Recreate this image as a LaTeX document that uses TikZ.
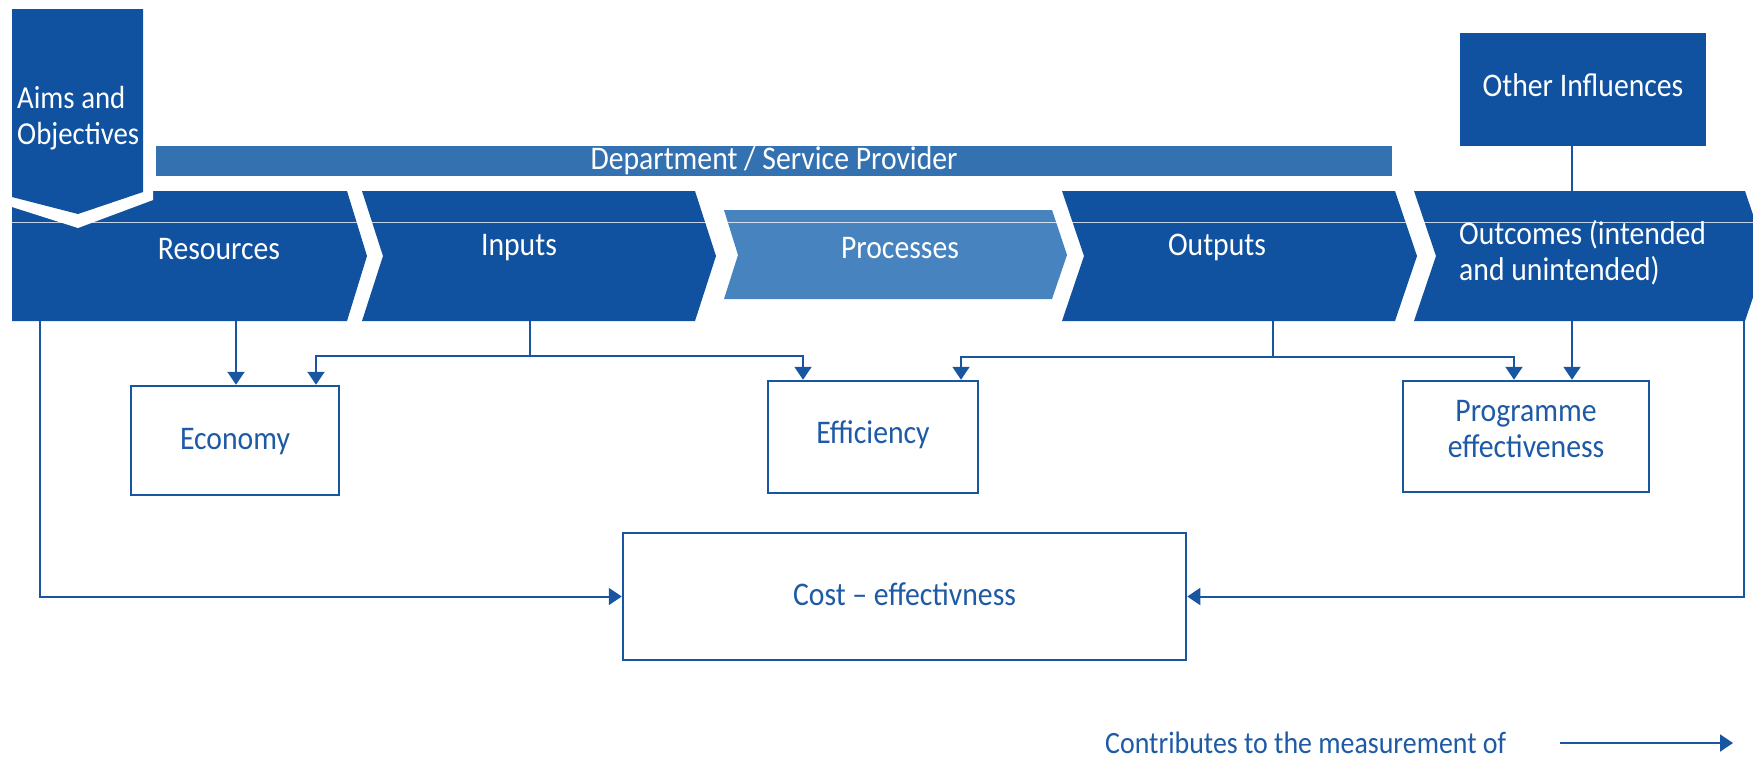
\documentclass[tikz,border=0pt]{standalone}
\usepackage{fontspec}
\setmainfont{Carlito}[FakeStretch=0.9]
\usetikzlibrary{arrows.meta}
\definecolor{dkblue}{RGB}{16,82,160}
\definecolor{deptblue}{RGB}{51,113,177}
\definecolor{procblue}{RGB}{71,131,191}
\definecolor{lnblue}{RGB}{24,86,162}
\definecolor{txblue}{RGB}{30,90,165}
\tikzset{
  wtxt/.style={text=white, font=\fontsize{33}{36}\selectfont, inner sep=0pt},
  btxt/.style={text=txblue, font=\fontsize{33}{36}\selectfont, inner sep=0pt, align=center},
  wbox/.style={draw=lnblue, line width=2.5pt, fill=white, inner sep=0pt},
  conn/.style={draw=lnblue, line width=2pt},
  arr/.style={conn, -{Triangle[length=13pt,width=17pt]}},
}
\begin{document}
\begin{tikzpicture}[x=1pt,y=-1pt]
\useasboundingbox (0,0) rectangle (1753,758);
\clip (0,0) rectangle (1753,758);
% department bar
\fill[deptblue] (156,146) rectangle (1392,176);
\node[wtxt] (dept) at (774,161) {Department / Service Provider};
% chevrons
\fill[dkblue] (12,191) -- (347,191) -- (367,256) -- (347,321) -- (12,321) -- cycle;
\fill[dkblue] (362,191) -- (695,191) -- (716,256) -- (695,321) -- (362,321) -- (383,256) -- cycle;
\fill[procblue] (724,210) -- (1052,210) -- (1067,255) -- (1052,299) -- (724,299) -- (738,255) -- cycle;
\fill[dkblue] (1062,191) -- (1395,191) -- (1417,256) -- (1395,321) -- (1062,321) -- (1084,256) -- cycle;
\fill[dkblue] (1414,191) -- (1745,191) -- (1767,256) -- (1745,321) -- (1414,321) -- (1436,256) -- cycle;
\draw[white, line width=1pt, opacity=0.75] (12,222) -- (1753,222);
% aims and objectives
\fill[white] (12,186) -- (153,186) -- (153,200) -- (78,228) -- (12,207) -- cycle;
\fill[dkblue] (12,9) -- (143,9) -- (143,192) -- (78,214) -- (12,197) -- cycle;
\node[wtxt, anchor=west, align=left, font=\fontsize{32}{36}\selectfont] (aims) at (17,118) {Aims and\\Objectives};
% chevron labels
\node[wtxt] (res) at (219,249) {Resources};
\node[wtxt] (inp) at (519,248) {Inputs};
\node[wtxt] (proc) at (900,248) {Processes};
\node[wtxt] (outp) at (1217,247) {Outputs};
\node[wtxt, anchor=west, align=left] (outc) at (1459,253) {Outcomes (intended\\and unintended)};
% other influences
\node[fill=dkblue, minimum width=246pt, minimum height=113pt, inner sep=0pt] (oi) at (1583,89.5) {};
\node[wtxt] (oit) at ([yshift=4.5pt]oi.center) {Other Influences};
\coordinate (oitop) at (1572,191);
\draw[conn] (oi.south -| oitop) -- (oitop);
% measure boxes
\node[wbox, minimum width=208pt, minimum height=109pt] (econ) at (235,440.5) {};
\node[btxt] (econt) at ([yshift=-1pt]econ.center) {Economy};
\node[wbox, minimum width=210pt, minimum height=112pt] (eff) at (873,437) {};
\node[btxt] (efft) at ([yshift=2pt]eff.center) {Efficiency};
\node[wbox, minimum width=246pt, minimum height=111pt] (prog) at (1526,436.5) {};
\node[btxt] (progt) at ([yshift=7pt]prog.center) {Programme\\effectiveness};
\node[wbox, minimum width=563pt, minimum height=127pt] (cost) at (904.5,596.5) {};
\node[btxt] (costt) at ([yshift=2pt]cost.center) {Cost -- effectivness};
% connector points
\coordinate (resb1) at (40,321);
\coordinate (resb2) at (236,321);
\coordinate (inb) at (530,321);
\coordinate (outb) at (1273,321);
\coordinate (ocb) at (1572,321);
\coordinate (ocb2) at (1744,321);
\coordinate (e1) at (316,356);
\coordinate (e2) at (803,356);
\coordinate (f1) at (961,357);
\coordinate (f2) at (1514,357);
% connectors
\draw[arr] (resb2) -- (resb2 |- econ.north);
\draw[arr] (inb) |- (e1) -- (e1 |- econ.north);
\draw[arr] (inb) |- (e2) -- (e2 |- eff.north);
\draw[arr] (outb) |- (f1) -- (f1 |- eff.north);
\draw[arr] (outb) |- (f2) -- (f2 |- prog.north);
\draw[arr] (ocb) -- (ocb |- prog.north);
\draw[arr] (resb1) |- (cost.west);
\draw[arr] (ocb2) |- (cost.east);
% legend
\node[btxt, anchor=west, font=\fontsize{31}{36}\selectfont] (leg) at (1105,743) {Contributes to the measurement of};
\coordinate (la) at (1560,743);
\coordinate (lb) at (1733,743);
\draw[arr] (la) -- (lb);
\end{tikzpicture}
\end{document}
